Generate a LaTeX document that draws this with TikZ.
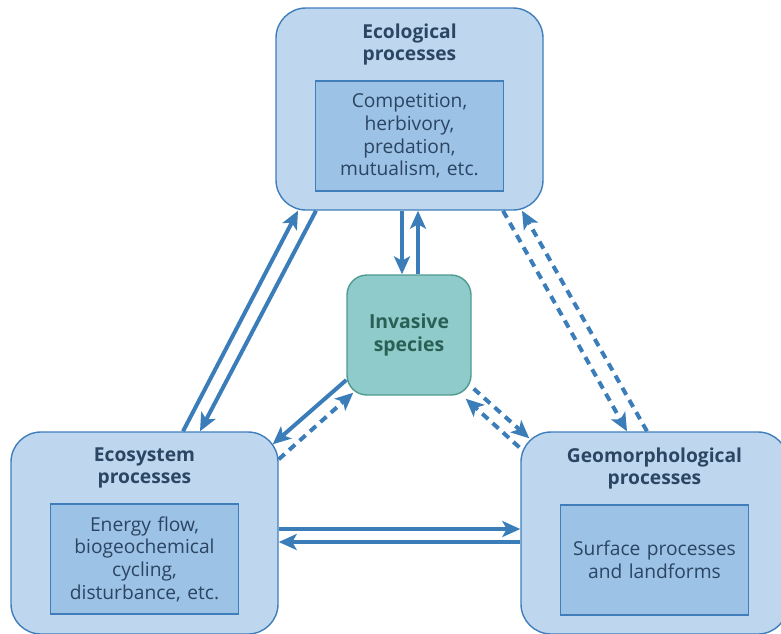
\documentclass[tikz,border=0pt]{standalone}
\usepackage{fontspec}
\setmainfont{Open Sans}
\usetikzlibrary{positioning}
\usetikzlibrary{arrows.meta}

\definecolor{boxfill}{HTML}{BED7EE}
\definecolor{boxline}{HTML}{3F7EBB}
\definecolor{innerfill}{HTML}{9CC2E5}
\definecolor{textblue}{HTML}{2B4563}
\definecolor{arrowblue}{HTML}{3B7DB9}
\definecolor{invfill}{HTML}{8FCBCA}
\definecolor{invline}{HTML}{4E9A90}
\definecolor{invtext}{HTML}{2A5F55}

\begin{document}
\begin{tikzpicture}[x=0.5pt,y=-0.5pt,
	process/.style={draw=boxline,fill=boxfill,line width=0.7pt,rectangle,rounded corners=15pt,minimum width=133.5pt,minimum height=101pt},
	heading/.style={inner sep=0pt,align=center,text=textblue,font=\fontsize{9.6}{11}\selectfont\bfseries},
	detail/.style={draw=boxline,fill=innerfill,line width=0.6pt,rectangle,align=center,text width=88pt,inner xsep=3pt,minimum height=55pt,text=textblue,font=\fontsize{9.6}{11.3}\selectfont},
	invasive/.style={draw=invline,fill=invfill,line width=0.7pt,rectangle,rounded corners=10pt,minimum width=62pt,minimum height=60pt,align=center,text=invtext,font=\fontsize{9.7}{11.2}\selectfont\bfseries},
	link/.style={draw=arrowblue,line width=2pt,-{Stealth[length=9pt,width=8pt,inset=2.2pt]}},
	dlink/.style={link,dash pattern=on 4pt off 3pt}]
	\useasboundingbox (0,0) rectangle (781,633);
	\clip (0,0) rectangle (781,633);

	\node[process] (eco) at (409.5,109) {};
	\node[heading,below=8pt of eco.north] (ecotitle) {Ecological\\processes};
	\node[detail,below=7.5pt of ecotitle] (ecodetail) {Competition,\\herbivory,\\predation,\\mutualism, etc.};

	\node[process] (ecosys) at (144.5,533) {};
	\node[heading,below=8pt of ecosys.north] (ecosystitle) {Ecosystem\\processes};
	\node[detail,below=7.5pt of ecosystitle] (ecosysdetail) {Energy flow,\\biogeochemical\\cycling,\\disturbance, etc.};

	\node[process] (geo) at (654.5,533) {};
	\node[heading,below=8pt of geo.north] (geotitle) {Geomorphological\\processes};
	\node[detail,below=7.5pt of geotitle] (geodetail) {Surface processes\\and landforms};

	\node[invasive] (inv) at (409,335) {Invasive\\species};

	\draw[link] ([xshift=-3.75pt]eco.south) -- ([xshift=-3.5pt]inv.north);
	\draw[link] ([xshift=4.5pt]inv.north) -- ([xshift=4.25pt]eco.south);
	\draw[link] ([xshift=19.25pt]ecosys.north) -- ([xshift=-55.75pt]eco.south);
	\draw[link] ([xshift=-46.75pt]eco.south) -- ([xshift=27.75pt]ecosys.north);
	\draw[dlink] ([xshift=46.75pt]eco.south) -- ([xshift=-13.75pt]geo.north);
	\draw[dlink] ([xshift=-3.75pt]geo.north) -- ([xshift=56.25pt]eco.south);
	\draw[link] ([yshift=-22.5pt]inv.west) -- ([xshift=-3pt,yshift=-6.5pt]ecosys.north east);
	\draw[dlink] ([yshift=-14pt]ecosys.north east) -- ([xshift=3.5pt,yshift=1.5pt]inv.south west);
	\draw[dlink] ([xshift=1pt,yshift=3.5pt]inv.south east) -- ([xshift=4.5pt,yshift=-3.5pt]geo.north west);
	\draw[dlink] ([xshift=-0.5pt,yshift=-8pt]geo.north west) -- ([xshift=-3pt,yshift=-1.5pt]inv.south east);
	\draw[link] ([yshift=2pt]ecosys.east) -- ([yshift=2pt]geo.west);
	\draw[link] ([yshift=-4.5pt]geo.west) -- ([yshift=-4.5pt]ecosys.east);
\end{tikzpicture}
\end{document}
